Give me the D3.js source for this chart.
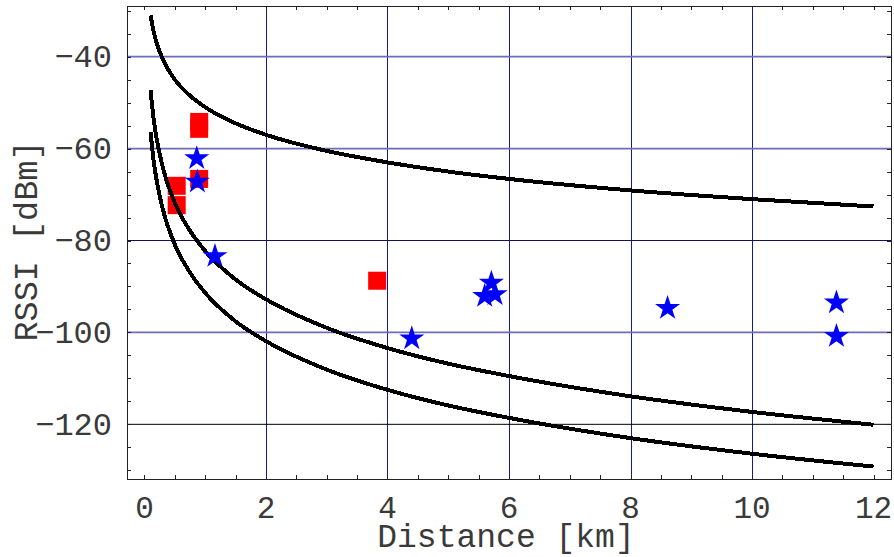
<!DOCTYPE html>
<html>
<head>
<meta charset="utf-8">
<script src="https://cdn.jsdelivr.net/npm/d3@7"></script>
<style>
  body { margin: 0; background: #fff; }
  svg text { font-family: "Liberation Mono", "Courier New", monospace; fill: #3a3a3a; }
</style>
</head>
<body>
<div id="chart"></div>
<script>
// tick values / labels
const xTicks = [0, 2, 4, 6, 8, 10, 12];
const yTicks = [-40, -60, -80, -100, -120];

// model curves at these distances (km)
const curveD = [0.1, 0.15, 0.2, 0.3, 0.5, 0.75, 1, 1.5, 2, 3, 4, 5, 6, 8, 10, 12];
const curveTop = [-31, -34.5, -37, -40.5, -45, -48.5, -51, -54.5, -57, -60.5, -63, -65, -66.6, -69.1, -71, -72.6];
const curveMid = [-47.3, -53.5, -57.8, -64.0, -71.8, -77.9, -82.3, -88.5, -92.8, -99.0, -103.4, -106.8, -109.5, -113.9, -117.3, -120.1];
const curveLow = [-56.4, -62.6, -66.9, -73.1, -80.9, -87.0, -91.4, -97.6, -101.9, -108.1, -112.5, -115.9, -118.6, -123.0, -126.4, -129.2];

// measurements (red squares)
const squareD = [0.90, 0.90, 0.90, 0.53, 0.53, 3.83];
const squareRssi = [-54.2, -55.7, -66.6, -68.1, -72.3, -88.75];

// measurements (blue stars)
const starD = [0.86, 0.87, 1.16, 4.40, 5.60, 5.71, 5.77, 8.61, 11.39, 11.39];
const starRssi = [-61.9, -67.0, -83.2, -101.1, -91.9, -89.0, -91.5, -94.5, -93.3, -100.6];

const width = 894, height = 557;
const frame = {left: 127, right: 891, top: 6, bottom: 479};

const svg = d3.select('#chart').append('svg')
    .attr('width', width)
    .attr('height', height);

const x = d3.scaleLinear().domain([-0.288, 12.288]).range([frame.left, frame.right]);
const y = d3.scaleLinear().domain([-131.9, -28.97]).range([frame.bottom, frame.top]);

// grid
const grid = svg.append('g');
grid.selectAll('line.vg')
    .data(xTicks.filter(d => d > 0 && d < 12))
    .join('line')
    .attr('x1', d => Math.round(x(d)) + 0.5).attr('x2', d => Math.round(x(d)) + 0.5)
    .attr('y1', frame.top).attr('y2', frame.bottom)
    .attr('stroke', '#1a1a8c').attr('stroke-width', 1);

// the horizontal lines come out in different shades in the original
const hColor = {'-40': '#6c6cb8', '-60': '#6c6cb8', '-80': '#111155', '-100': '#6c6cb8', '-120': '#000'};
grid.selectAll('line.hg')
    .data(yTicks)
    .join('line')
    .attr('x1', frame.left).attr('x2', frame.right)
    .attr('y1', d => y(d)).attr('y2', d => y(d))
    .attr('stroke', d => hColor[d])
    .attr('stroke-width', d => hColor[d] === '#6c6cb8' ? 1.8 : 1);

// ticks, inward on all four sides
const xMinor = d3.range(0, 12.01, 0.5);
const yMinor = d3.range(-130, -29, 5);
const tk = svg.append('g').attr('stroke', '#222').attr('stroke-width', 1);
xMinor.forEach(v => {
  const px = Math.round(x(v)) + 0.5;
  tk.append('line').attr('x1', px).attr('x2', px).attr('y1', frame.bottom).attr('y2', frame.bottom - 4);
  tk.append('line').attr('x1', px).attr('x2', px).attr('y1', frame.top).attr('y2', frame.top + 4);
});
yMinor.forEach(v => {
  const py = Math.round(y(v)) + 0.5;
  tk.append('line').attr('x1', frame.left).attr('x2', frame.left + 4).attr('y1', py).attr('y2', py);
  tk.append('line').attr('x1', frame.right).attr('x2', frame.right - 4).attr('y1', py).attr('y2', py);
});

// frame
svg.append('rect')
    .attr('x', frame.left + 0.5).attr('y', frame.top + 0.5)
    .attr('width', frame.right - frame.left).attr('height', frame.bottom - frame.top)
    .attr('fill', 'none').attr('stroke', '#222').attr('stroke-width', 1);

// red squares
svg.append('g').selectAll('rect')
    .data(squareD.map((d, i) => [d, squareRssi[i]]))
    .join('rect')
    .attr('x', d => x(d[0]) - 9).attr('y', d => y(d[1]) - 9)
    .attr('width', 18).attr('height', 18)
    .attr('fill', '#ff0000');

// curves
const line = d3.line()
    .x(d => x(d[0])).y(d => y(d[1]))
    .curve(d3.curveMonotoneX);
svg.append('g').selectAll('path')
    .data([curveTop, curveMid, curveLow].map(s => curveD.map((d, i) => [d, s[i]])))
    .join('path')
    .attr('d', line)
    .attr('fill', 'none')
    .attr('stroke', '#000')
    .attr('stroke-width', 4)
    .attr('shape-rendering', 'crispEdges');

// blue stars
const star = d3.symbol(d3.symbolStar, 195);
svg.append('g').selectAll('path')
    .data(starD.map((d, i) => [d, starRssi[i]]))
    .join('path')
    .attr('d', star)
    .attr('transform', d => `translate(${x(d[0])},${y(d[1]) + 1})`)
    .attr('fill', '#0000ff');

// tick labels
svg.append('g').selectAll('text')
    .data(xTicks)
    .join('text')
    .attr('x', d => x(d)).attr('y', 518)
    .attr('text-anchor', 'middle')
    .attr('font-size', 31)
    .text(d => d);

svg.append('g').selectAll('text')
    .data(yTicks)
    .join('text')
    .attr('x', 112).attr('y', d => y(d) + 10.5)
    .attr('text-anchor', 'end')
    .attr('font-size', 32)
    .text(d => '\u2212' + Math.abs(d));

// axis titles
svg.append('text')
    .attr('x', 506).attr('y', 547)
    .attr('text-anchor', 'middle')
    .attr('font-size', 33)
    .text('Distance [km]');

svg.append('text')
    .attr('transform', 'translate(37,241) rotate(-90)')
    .attr('text-anchor', 'middle')
    .attr('font-size', 33.5)
    .text('RSSI [dBm]');
</script>
</body>
</html>
